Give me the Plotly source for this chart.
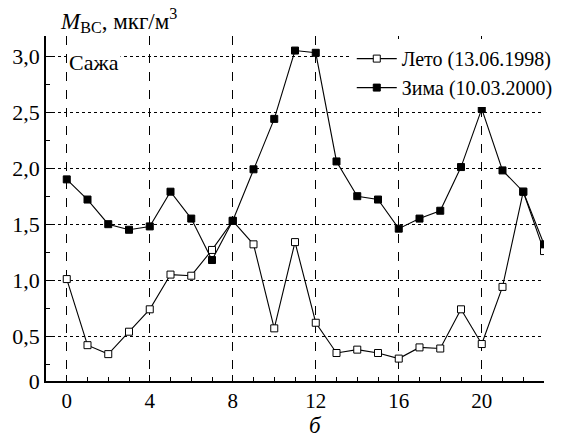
import plotly.graph_objects as go

hours = list(range(24))
summer = [1.01, 0.42, 0.34, 0.54, 0.74, 1.05, 1.04, 1.27, 1.53, 1.32, 0.57, 1.34,
          0.62, 0.35, 0.38, 0.35, 0.30, 0.40, 0.39, 0.74, 0.43, 0.94, 1.79, 1.26]
winter = [1.90, 1.72, 1.50, 1.45, 1.48, 1.79, 1.55, 1.18, 1.53, 1.99, 2.44, 3.05,
          3.03, 2.06, 1.75, 1.72, 1.46, 1.55, 1.62, 2.01, 2.53, 1.98, 1.79, 1.32]
summer_name = "Лето (13.06.1998)"
winter_name = "Зима (10.03.2000)"
ytickvals = [0.1, 0.5, 1.0, 1.5, 2.0, 2.5, 3.0]
yticktext = ["0", "0,5", "1,0", "1,5", "2,0", "2,5", "3,0"]
xtickvals = [0, 4, 8, 12, 16, 20]

FONT = "Liberation Serif, Times New Roman, serif"

fig = go.Figure()
fig.add_trace(go.Scatter(x=hours, y=summer, mode="lines+markers", name=summer_name,
                         line=dict(color="black", width=1.1),
                         marker=dict(symbol="square", size=7, color="white",
                                     line=dict(color="black", width=1))))
fig.add_trace(go.Scatter(x=hours, y=winter, mode="lines+markers", name=winter_name,
                         line=dict(color="black", width=1.1),
                         marker=dict(symbol="square", size=7, color="black",
                                     line=dict(color="black", width=1))))

fig.update_layout(
    width=569, height=437,
    margin=dict(l=46, r=25, t=36, b=56, autoexpand=False),
    paper_bgcolor="white", plot_bgcolor="white",
    font=dict(family=FONT, color="black", size=21),
    showlegend=True,
    legend=dict(x=0.614, y=0.991, xanchor="left", yanchor="top",
                bgcolor="white", borderwidth=0, font=dict(size=20, family=FONT),
                itemwidth=40),
    xaxis=dict(range=[-1, 23], tickvals=xtickvals, ticks="inside", ticklen=6,
               tickcolor="black", showline=True, linecolor="black", linewidth=1.5,
               showgrid=True, gridcolor="black", gridwidth=1, griddash="dash",
               zeroline=False, automargin=False, tickfont=dict(size=21, family=FONT),
               minor=dict(dtick=1, ticks="inside", ticklen=4, tickcolor="black", showgrid=False)),
    yaxis=dict(range=[0.1, 3.18], tickvals=ytickvals, ticktext=yticktext, ticks="inside",
               ticklen=6, tickcolor="black", showline=True, linecolor="black", linewidth=1.5,
               showgrid=True, gridcolor="black", gridwidth=1, griddash="dot",
               zeroline=False, automargin=False, tickfont=dict(size=22, family=FONT),
               minor=dict(tickvals=[0.25, 0.75, 1.25, 1.75, 2.25, 2.75], ticks="inside",
                          ticklen=4, tickcolor="black", showgrid=False)),
)

fig.add_annotation(text="<i>M</i><sub>ВС</sub>, мкг/м<sup>3</sup>", xref="paper", yref="paper",
                   x=0.025, y=0.995, xanchor="left", yanchor="bottom", showarrow=False,
                   font=dict(size=23, family=FONT))
fig.add_annotation(text="Сажа", xref="x", yref="y", x=0.02, y=2.94,
                   xanchor="left", yanchor="middle", showarrow=False,
                   bgcolor="white", font=dict(size=22, family=FONT))
fig.add_annotation(text="<i>б</i>", xref="x", yref="paper", x=12, y=-0.13,
                   xanchor="center", yanchor="middle", showarrow=False,
                   font=dict(size=23, family=FONT))

fig.write_html("out.html")
